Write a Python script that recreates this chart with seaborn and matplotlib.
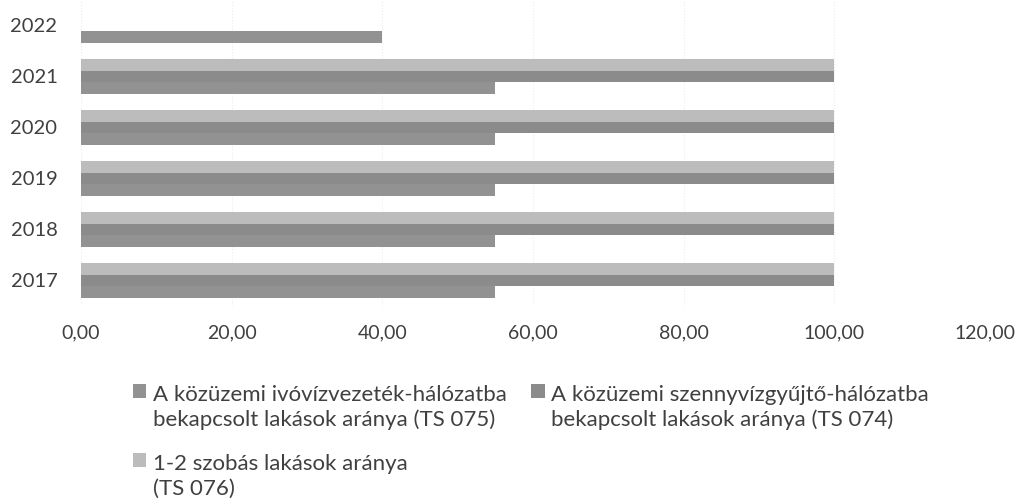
import pandas as pd
import numpy as np
import matplotlib
matplotlib.use('Agg')
import matplotlib.pyplot as plt
import seaborn as sns

# adatok
years = ['2022', '2021', '2020', '2019', '2018', '2017']
ivoviz = [40.0, 55.0, 55.0, 55.0, 55.0, 55.0]          # TS 075
szennyviz = [np.nan, 100.0, 100.0, 100.0, 100.0, 100.0]  # TS 074
szobas = [np.nan, 100.0, 100.0, 100.0, 100.0, 100.0]     # TS 076

lab_ivo = 'A közüzemi ivóvízvezeték-hálózatba\nbekapcsolt lakások aránya (TS 075)'
lab_szenny = 'A közüzemi szennyvízgyűjtő-hálózatba\nbekapcsolt lakások aránya (TS 074)'
lab_szoba = '1-2 szobás lakások aránya\n(TS 076)'

colors = {lab_szoba: '#bcbcbc', lab_szenny: '#8b8b8b', lab_ivo: '#929292'}

df = pd.DataFrame({
    'ev': years * 3,
    'ertek': ivoviz + szennyviz + szobas,
    'sorozat': [lab_ivo] * 6 + [lab_szenny] * 6 + [lab_szoba] * 6,
})

sns.set_style('white')
plt.rcParams['font.family'] = ['Lato', 'DejaVu Sans']

fig = plt.figure(figsize=(10.18, 5.04), dpi=100)
ax = fig.add_axes([0.0796, 0.393, 0.888, 0.607])

# Excel: első sorozat alul -> hue sorrend felülről lefelé
sns.barplot(data=df, y='ev', x='ertek', hue='sorozat', order=years,
            hue_order=[lab_szoba, lab_szenny, lab_ivo], palette=colors,
            orient='h', width=0.68, gap=0, linewidth=0, ax=ax, legend=True)

ax.set_xlim(0, 120)
ax.set_xticks(np.arange(0, 121, 20))
ax.set_xticklabels([f'{v:.2f}'.replace('.', ',') for v in np.arange(0, 121, 20)])
ax.set_xlabel('')
ax.set_ylabel('')
ax.tick_params(axis='x', length=0, pad=13, labelsize=14, colors='#404040')
ax.tick_params(axis='y', length=0, pad=17, labelsize=14.5, colors='#404040')
ax.grid(axis='x', color='#ececec', linewidth=0.8, linestyle=':')
ax.set_axisbelow(True)
for s in ax.spines.values():
    s.set_visible(False)

handles, labels = ax.get_legend_handles_labels()
hmap = dict(zip(labels, handles))
ax.get_legend().remove()
order = [lab_ivo, lab_szoba, lab_szenny]
leg = fig.legend([hmap[l] for l in order], order, ncol=2, frameon=False,
                 loc='upper left', bbox_to_anchor=(0.111, 0.276),
                 fontsize=16, handlelength=0.6, handleheight=0.6,
                 handletextpad=0.3, columnspacing=1.1, labelspacing=1.05,
                 labelcolor='#404040')
for t in leg.get_texts():
    t.set_linespacing(1.3)
# jelölő az első sorhoz igazítva
for h in leg.legend_handles:
    h.set_y(h.get_y() + 12)

fig.savefig('out.png', dpi=100)
